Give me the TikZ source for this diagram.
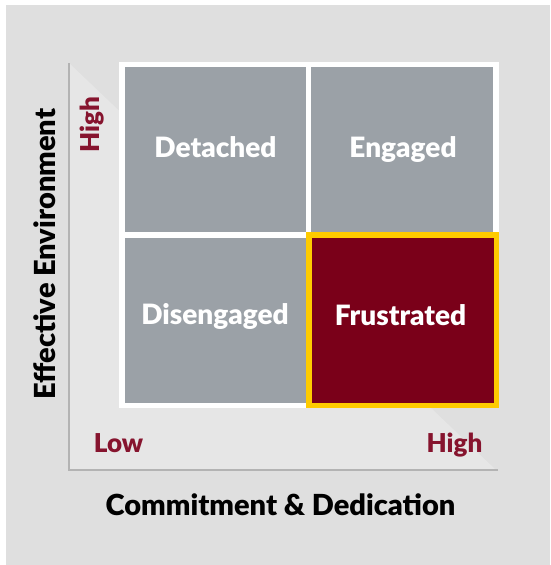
\documentclass[tikz,border=0pt]{standalone}
\usepackage{fontspec}
\setsansfont{Lato}[BoldFont={Lato Black}]

\definecolor{pagegray}{HTML}{DFDFDF}
\definecolor{wedgegray}{HTML}{E6E6E6}
\definecolor{axisgray}{HTML}{B3B3B3}
\definecolor{cellgray}{HTML}{9BA1A7}
\definecolor{maroon}{HTML}{7A0019}
\definecolor{labelred}{HTML}{86142E}
\definecolor{gold}{HTML}{FECB00}

\tikzset{
  cell/.style={fill=cellgray, inner sep=0pt, minimum width=181pt, minimum height=165pt},
  hotcell/.style={fill=maroon, draw=gold, line width=5.5pt, inner sep=0pt,
    minimum width=187.5pt, minimum height=170.5pt},
  celltext/.style={anchor=base, inner sep=0pt, text=white,
    font=\sffamily\bfseries\fontsize{28}{28}\selectfont},
  level/.style={anchor=base, inner sep=0pt, text=labelred,
    font=\sffamily\bfseries\fontsize{26}{26}\selectfont},
  axistitle/.style={anchor=base, inner sep=0pt, text=black,
    font=\sffamily\bfseries\fontsize{29}{29}\selectfont},
  axis/.style={draw=axisgray, line width=1.5pt}
}

\begin{document}
\begin{tikzpicture}[x=1pt,y=-1pt]
	% page and backdrop
	\fill[white] (0,0) rectangle (550,565);
	\fill[pagegray] (6,5) rectangle (550,565);
	\useasboundingbox (0,0) rectangle (550,565);
	\fill[wedgegray] (69,63) -- (69,470) -- (496,470) -- cycle;
	\draw[axis] (69,63) coordinate (ytop) -- (69,470) coordinate (origin) -- (498,470) coordinate (xend);

	% 2x2 grid on a white frame
	\fill[white] (119,62) rectangle (499,408);
	\node[cell] (detached) at (215.5,149.5) {};
	\node[cell, minimum width=182pt] (engaged) at (402,149.5) {};
	\node[cell] (disengaged) at (215.5,320.5) {};
	\node[hotcell] (frustrated) at (402.5,320) {};

	\node[celltext] (detachedtxt) at (215.5,157) {Detached};
	\node[celltext] (engagedtxt) at (403,157) {Engaged};
	\node[celltext] (disengagedtxt) at (215,324) {Disengaged};
	\node[celltext] (frustratedtxt) at (400.5,325) {Frustrated};

	% levels on both axes
	\node[level, rotate=90] (yhigh) at (99,124.5) {High};
	\node[level] (xlow) at (118.5,452) {Low};
	\node[level] (xhigh) at (454.5,452) {High};

	% axis titles
	\node[axistitle] (xtitle) at (280.5,515) {Commitment \& Dedication};
	\node[axistitle, rotate=90] (ytitle) at (55,254) {Effective Environment};
\end{tikzpicture}
\end{document}
